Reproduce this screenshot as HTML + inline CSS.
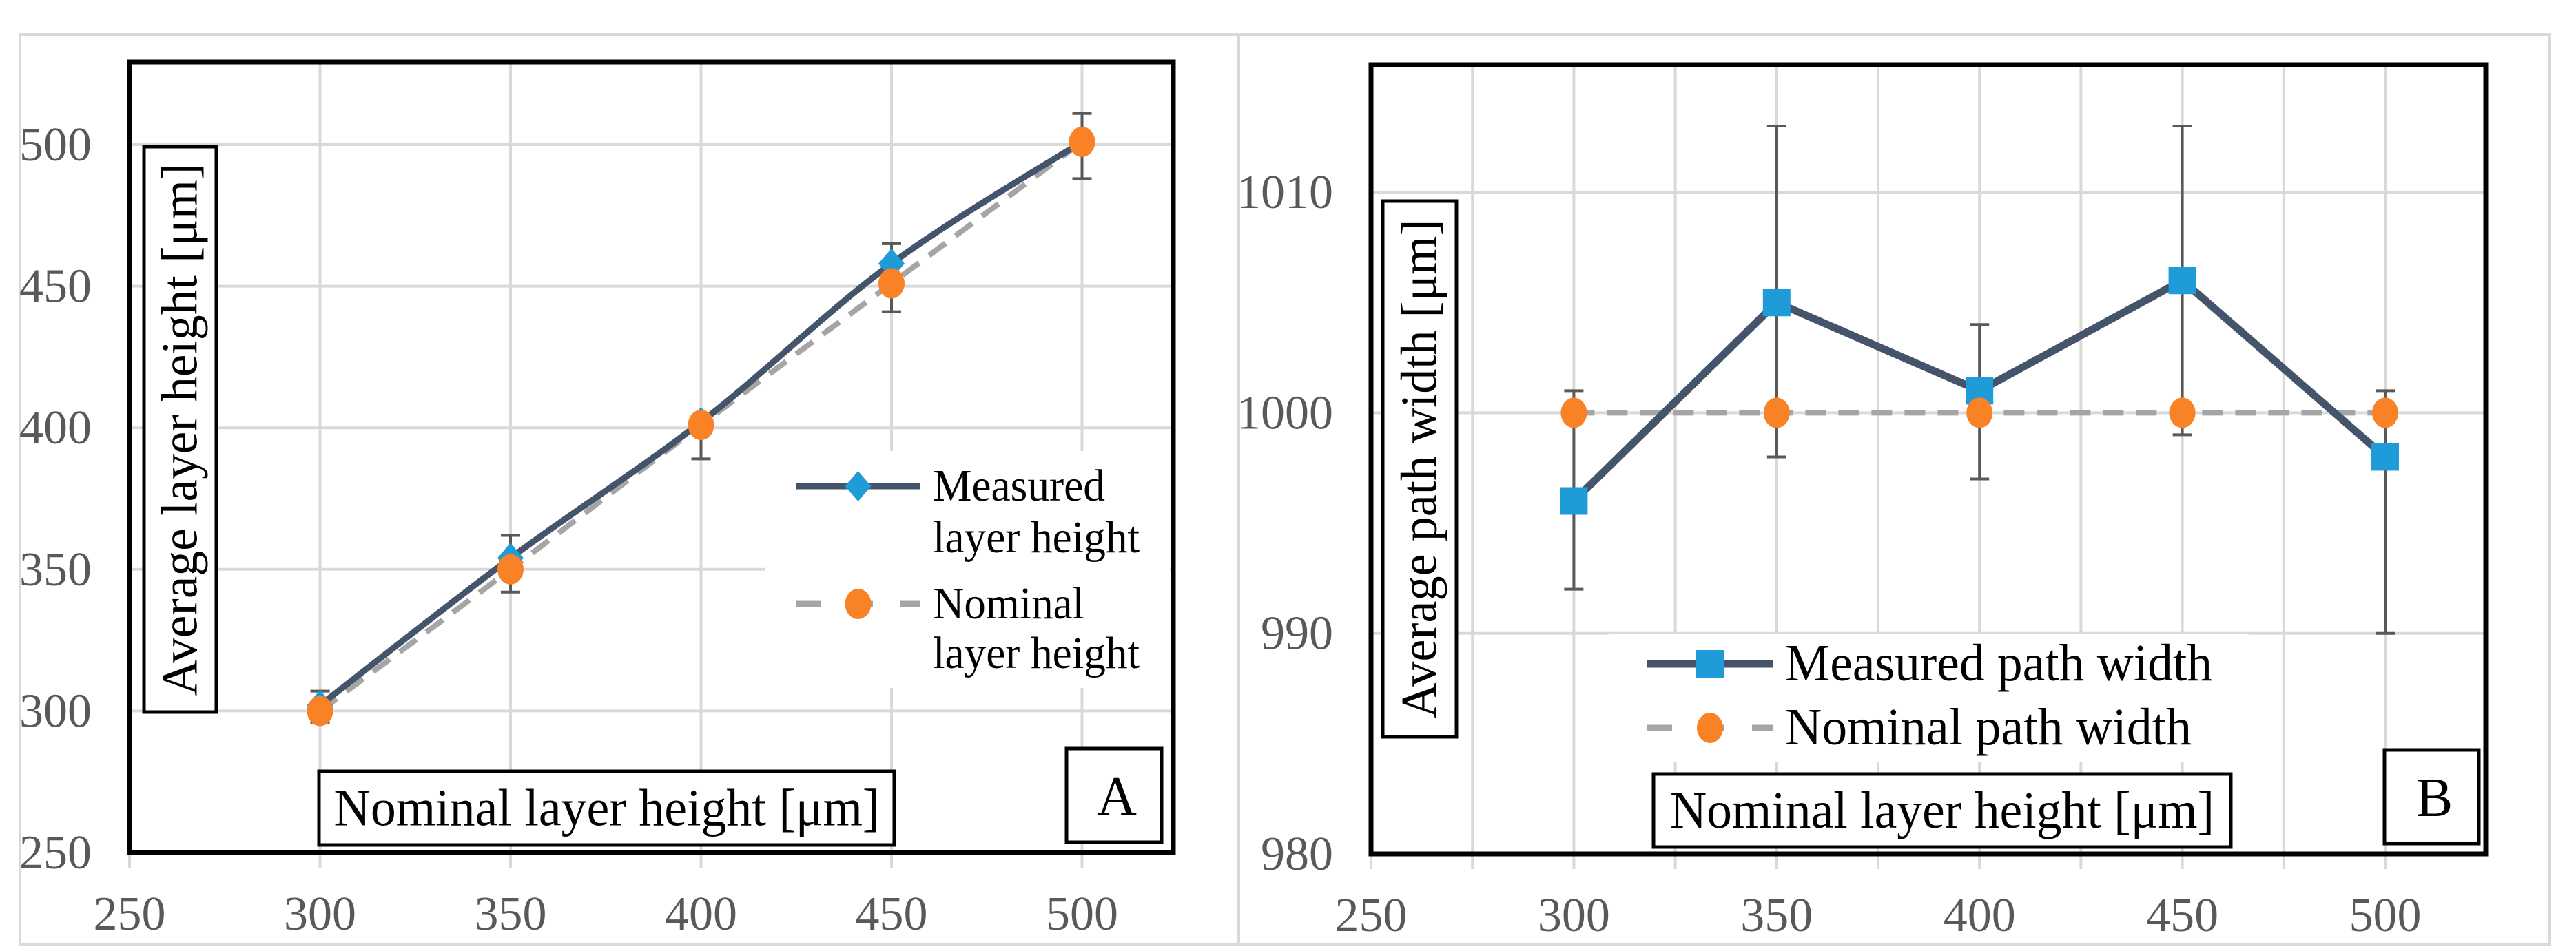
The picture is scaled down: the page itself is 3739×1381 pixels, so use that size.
<!DOCTYPE html>
<html><head><meta charset="utf-8"><style>
html,body{margin:0;padding:0;background:#fff;}
svg text{font-family:"Liberation Serif","DejaVu Serif",serif;}
</style></head><body>
<svg id="chart" width="3739" height="1376" viewBox="0 0 3739 1376" xmlns="http://www.w3.org/2000/svg">
<rect x="0" y="0" width="3739" height="1376" fill="#fff"/>
<rect x="29" y="50" width="1769" height="1322" fill="none" stroke="#d9d9d9" stroke-width="4"/>
<rect x="1798" y="50" width="1902" height="1322" fill="none" stroke="#d9d9d9" stroke-width="4"/>
<g id="ga"></g>
<g id="gb"></g>
</svg>
<script>
// ---- Panel A data ----
const xCatsA = [300, 350, 400, 450, 500];
const measuredA = [302, 354, 402, 458, 501];
const nominalA = [300, 350, 401, 451, 501];
const errHighA = [307, 362, 404, 465, 511];
const errLowA = [296, 342, 389, 441, 488];
const xTicksA = [250, 300, 350, 400, 450, 500];
const yTicksA = [250, 300, 350, 400, 450, 500];
// ---- Panel B data ----
const xCatsB = [300, 350, 400, 450, 500];
const measuredB = [996, 1005, 1001, 1006, 998];
const nominalB = [1000, 1000, 1000, 1000, 1000];
const errHighB = [1001, 1013, 1004, 1013, 1001];
const errLowB = [992, 998, 997, 999, 990];
const xTicksB = [250, 300, 350, 400, 450, 500];
const yTicksB = [980, 990, 1000, 1010];

const NS = "http://www.w3.org/2000/svg";
const FF = "Liberation Serif, DejaVu Serif, serif";
function mk(parent, tag, attrs, text) {
  const e = document.createElementNS(NS, tag);
  for (const k in attrs) e.setAttribute(k, attrs[k]);
  if (tag === "text") e.setAttribute("font-family", FF);
  if (text !== undefined) e.textContent = text;
  parent.appendChild(e);
  return e;
}
function spline(pts) {
  let d = "M" + pts[0][0] + "," + pts[0][1];
  for (let i = 0; i < pts.length - 1; i++) {
    const p0 = pts[i - 1] || pts[i], p1 = pts[i], p2 = pts[i + 1], p3 = pts[i + 2] || p2;
    const t = 6;
    d += " C" + (p1[0] + (p2[0] - p0[0]) / t) + "," + (p1[1] + (p2[1] - p0[1]) / t) + " " +
      (p2[0] - (p3[0] - p1[0]) / t) + "," + (p2[1] - (p3[1] - p1[1]) / t) + " " + p2[0] + "," + p2[1];
  }
  return d;
}

function panel(g, cfg) {
  const X = v => cfg.fx0 + (v - cfg.xmin) * cfg.xs;
  const Y = v => cfg.fy1 - (v - cfg.ymin) * cfg.ys;
  for (let v = cfg.xmin + cfg.xgstep; v < cfg.xmax - 1; v += cfg.xgstep) {
    const l = mk(g, "line", {x1: X(v), x2: X(v), y1: cfg.fy0, y2: cfg.fy1 + 22, stroke: "#d9d9d9", "stroke-width": 4});
    
    
  }
  const t0 = mk(g, "line", {x1: X(cfg.xmin), x2: X(cfg.xmin), y1: cfg.fy1, y2: cfg.fy1 + 22, stroke: "#d9d9d9", "stroke-width": 4});
  
  
  cfg.yTicks.forEach(v => {
    if (v === cfg.ymin) return;
    const l = mk(g, "line", {x1: cfg.fx0, x2: cfg.fx1, y1: Y(v), y2: Y(v), stroke: "#d9d9d9", "stroke-width": 4});
    
    
  });
  const lb = mk(g, "rect", {x: cfg.leg.bx, y: cfg.leg.by, width: cfg.leg.bw, height: cfg.leg.bh, fill: "#fff"});
  
  
  cfg.yTicks.forEach(v => {
    const t = mk(g, "text", {x: cfg.ylx, y: Y(v) + 23, "text-anchor": "end", "font-size": 70, fill: "#595959"}, String(v));
    
    
  });
  cfg.xTicks.forEach(v => {
    const t = mk(g, "text", {x: X(v), y: cfg.xly, "text-anchor": "middle", "font-size": 70, fill: "#595959"}, String(v));
    
    
  });
  const np = cfg.cats.map((c, i) => [X(c), Y(cfg.nom[i])]);
  const nl = mk(g, "path", {d: cfg.smooth ? spline(np) : "M" + np.join(" L"), fill: "none", stroke: "#a5a5a5", "stroke-width": 8, "stroke-dasharray": "30 18"});
  
  
  const mp = cfg.cats.map((c, i) => [X(c), Y(cfg.meas[i])]);
  const ml = mk(g, "path", {d: cfg.smooth ? spline(mp) : "M" + mp.join(" L"), fill: "none", stroke: "#44546a", "stroke-width": cfg.lw, "stroke-linejoin": "round"});
  
  
  cfg.cats.forEach((c, i) => {
    const x = X(c);
    const e = mk(g, "path", {d: "M" + x + "," + Y(cfg.lo[i]) + " V" + Y(cfg.hi[i]) + " M" + (x - 14) + "," + Y(cfg.lo[i]) + " h28 M" + (x - 14) + "," + Y(cfg.hi[i]) + " h28", stroke: "#595959", "stroke-width": 4, fill: "none"});
    
    
  });
  const marker = (x, y) => cfg.square
    ? mk(g, "rect", {x: x - 20, y: y - 20, width: 40, height: 40, fill: "#1f9bd7"})
    : mk(g, "path", {d: "M" + x + "," + (y - 22) + " l19,22 l-19,22 l-19,-22z", fill: "#1f9bd7"});
  cfg.cats.forEach((c, i) => {
    const m = marker(X(c), Y(cfg.meas[i]));
    
    
  });
  cfg.cats.forEach((c, i) => {
    const m = mk(g, "ellipse", {cx: X(c), cy: Y(cfg.nom[i]), rx: 19, ry: 22, fill: "#f98227"});
    
    
  });
  const fr = mk(g, "rect", {x: cfg.fx0, y: cfg.fy0, width: cfg.fx1 - cfg.fx0, height: cfg.fy1 - cfg.fy0, fill: "none", stroke: "#000", "stroke-width": 7});
  
  
  const yb = cfg.ytb;
  const ybr = mk(g, "rect", {x: yb.x, y: yb.y, width: yb.w, height: yb.h, fill: "#fff", stroke: "#000", "stroke-width": 5});
  
  
  const cx = yb.x + yb.w / 2 + 24, cy = yb.y + yb.h / 2;
  const yt = mk(g, "text", {x: cx, y: cy, "text-anchor": "middle", "font-size": 74, fill: "#000", transform: "rotate(-90 " + cx + " " + cy + ")", textLength: yb.tl, lengthAdjust: "spacingAndGlyphs"}, cfg.ytitle);
  
  
  const xb = cfg.xtb;
  const xbr = mk(g, "rect", {x: xb.x, y: xb.y, width: xb.w, height: xb.h, fill: "#fff", stroke: "#000", "stroke-width": 5});
  
  
  const xt = mk(g, "text", {x: xb.x + xb.w / 2, y: xb.y + xb.h / 2 + 25, "text-anchor": "middle", "font-size": 76, fill: "#000", textLength: xb.tl, lengthAdjust: "spacingAndGlyphs"}, "Nominal layer height [μm]");
  
  
  const pb = cfg.pl;
  const pbr = mk(g, "rect", {x: pb.x, y: pb.y, width: pb.w, height: pb.h, fill: "#fff", stroke: "#000", "stroke-width": 5});
  
  
  const pt = mk(g, "text", {x: pb.x + pb.w / 2 + 4, y: pb.y + pb.h / 2 + 28, "text-anchor": "middle", "font-size": 80, fill: "#000"}, cfg.letter);
  
  
  const L = cfg.leg;
  const l1 = mk(g, "line", {x1: L.lx0, x2: L.lx1, y1: L.y1, y2: L.y1, stroke: "#44546a", "stroke-width": cfg.lw});
  
  
  const mx = (L.lx0 + L.lx1) / 2;
  const lm = marker(mx, L.y1);
  
  
  const l2 = mk(g, "line", {x1: L.lx0, x2: L.lx1, y1: L.y2, y2: L.y2, stroke: "#a5a5a5", "stroke-width": 9, "stroke-dasharray": "36 40"});
  
  
  const lm2 = mk(g, "ellipse", {cx: mx, cy: L.y2, rx: 19, ry: 22, fill: "#f98227"});
  
  
  L.lines.forEach(t => {
    const e = mk(g, "text", {x: L.tx, y: t[1], "font-size": L.fs, fill: "#000", textLength: t[2], lengthAdjust: "spacingAndGlyphs"}, t[0]);
    
    
  });
}

panel(document.getElementById("ga"), {
  fx0: 188, fx1: 1703, fy0: 90, fy1: 1238,
  xmin: 250, xmax: 525, xs: 276.5 / 50, xgstep: 50,
  ymin: 250, ys: 205.6 / 50,
  xTicks: xTicksA, yTicks: yTicksA, ylx: 133, xly: 1350,
  cats: xCatsA, meas: measuredA, nom: nominalA, hi: errHighA, lo: errLowA,
  smooth: true, square: false, lw: 9,
  ytitle: "Average layer height [μm]",
  ytb: {x: 209, y: 213, w: 105, h: 821, tl: 774},
  xtb: {x: 463, y: 1120, w: 835, h: 107, tl: 792},
  pl: {x: 1548, y: 1087, w: 138, h: 136}, letter: "A",
  leg: {bx: 1110, by: 655, bw: 588, bh: 344, lx0: 1155, lx1: 1336, y1: 706, y2: 877, tx: 1354, fs: 66,
        lines: [["Measured", 727, 250], ["layer height", 802, 300], ["Nominal", 898, 220], ["layer height", 970, 300]]}
});
panel(document.getElementById("gb"), {
  fx0: 1990, fx1: 3608, fy0: 94, fy1: 1240,
  xmin: 250, xmax: 525, xs: 294.4 / 50, xgstep: 25,
  ymin: 980, ys: 320.3 / 10,
  xTicks: xTicksB, yTicks: yTicksB, ylx: 1935, xly: 1352,
  cats: xCatsB, meas: measuredB, nom: nominalB, hi: errHighB, lo: errLowB,
  smooth: false, square: true, lw: 11,
  ytitle: "Average path width [μm]",
  ytb: {x: 2007, y: 292, w: 107, h: 778, tl: 725},
  xtb: {x: 2400, y: 1124, w: 838, h: 106, tl: 790},
  pl: {x: 3461, y: 1089, w: 137, h: 136}, letter: "B",
  leg: {bx: 2335, by: 921, bw: 930, bh: 185, lx0: 2391, lx1: 2573, y1: 964, y2: 1057, tx: 2591, fs: 76,
        lines: [["Measured path width", 988, 620], ["Nominal path width", 1081, 590]]}
});
</script>
</body></html>
